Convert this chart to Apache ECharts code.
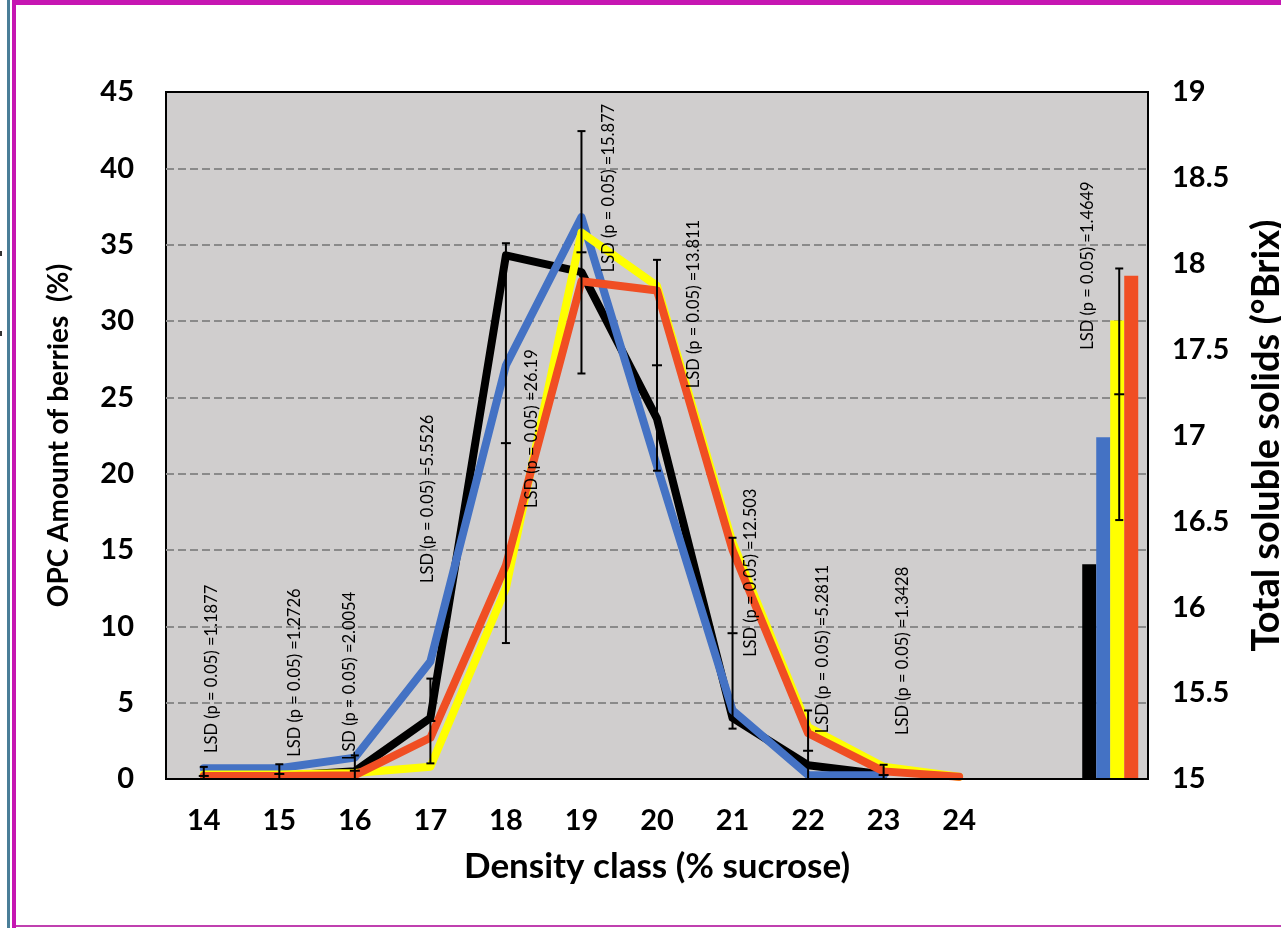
<!DOCTYPE html>
<html><head><meta charset="utf-8">
<script src="https://cdn.jsdelivr.net/npm/echarts@6/dist/echarts.min.js"></script>
<style>
html,body{margin:0;padding:0;background:#fff;overflow:hidden;}
#chart{position:absolute;left:0;top:0;width:1281px;height:928px;}
.deco{position:absolute;pointer-events:none;}
</style></head><body>
<div id="chart"></div>
<div class="deco" style="left:12px;top:0;width:1269px;height:5px;background:#C616B2"></div>
<div class="deco" style="left:7px;top:0;width:3px;height:928px;background:#4A7E98"></div>
<div class="deco" style="left:12px;top:0;width:4px;height:928px;background:#C616B2"></div>
<div class="deco" style="left:16px;top:925px;width:1265px;height:2px;background:#C040B0"></div>
<div class="deco" style="left:0;top:251px;width:2px;height:5px;background:#333"></div>
<div class="deco" style="left:0;top:331px;width:2px;height:5px;background:#333"></div>
<script>
// ---- data ----
const categories = ['14','15','16','17','18','19','20','21','22','23','24','',''];
const opcBlack  = [0.2, 0.2, 0.5, 4.0, 34.3, 33.2, 23.6, 4.0, 0.9, 0.3, null];
const opcBlue   = [0.7, 0.7, 1.4, 7.7, 27.1, 36.8, 20.5, 4.5, 0.26, 0.25, null];
const opcYellow = [0.3, 0.3, 0.4, 0.8, 12.5, 35.8, 32.3, 15.5, 3.4, 0.8, 0.15];
const opcRed    = [0.2, 0.2, 0.25, 2.7, 14.0, 32.6, 32.0, 15.0, 3.0, 0.5, 0.15];
const brixValues = [16.25, 16.99, 17.67, 17.93]; // black, blue, yellow, red
const lsdText   = ['1.1877','1.2726','2.0054','5.5526','26.19','15.877','13.811','12.503','5.2811','1.3428'];
const lsdCenter = [0.2, 0.33, 0.54, 3.8, 22.0, 34.5, 27.1, 9.55, 1.85, 0.26];
const brixLsdText = '1.4649';
const brixLsdCenter = 17.24;
const brixCategoryIndex = 12;
// label placement (value where each rotated label starts, pixel shift)
const lsdLabelBase = [1.7, 1.46, 1.24, 12.84, 17.75, 33.2, 25.6, 8.0, 3.0, 2.88];
const lsdLabelDx   = [8, 15, -5, -3, 26, 27, 37, 18, 15, 19];
const brixLabelBase = 17.5, brixLabelDx = -23;

const COLORS = ['#000000', '#4472C4', '#FFFF00', '#F04E23'];
const FONT = 'Lato, "Open Sans", sans-serif';

const chart = echarts.init(document.getElementById('chart'), null, {renderer: 'canvas'});

function errRender(dx) {
  return function (params, api) {
    const i = api.value(0), c = api.value(1), h = api.value(2) / 2;
    const pt = api.coord([i, c]);
    const top = api.coord([i, c + h]);
    const bot = api.coord([i, c - h]);
    const x = pt[0] + dx;
    const st = {stroke: '#000', lineWidth: 2};
    return {type: 'group', children: [
      {type: 'line', shape: {x1: x, y1: top[1], x2: x, y2: bot[1]}, style: st},
      {type: 'line', shape: {x1: x - 4, y1: top[1], x2: x + 4, y2: top[1]}, style: st},
      {type: 'line', shape: {x1: x - 4, y1: bot[1], x2: x + 4, y2: bot[1]}, style: st},
      {type: 'line', shape: {x1: x - 5, y1: pt[1], x2: x + 5, y2: pt[1]}, style: st}
    ]};
  };
}
function labelRender(dxArr) {
  return function (params, api) {
    const p = api.coord([api.value(0), api.value(1)]);
    const dx = dxArr[params.dataIndex];
    return {type: 'text', x: p[0] + dx, y: p[1], rotation: Math.PI / 2,
      style: {text: 'LSD (p = 0.05) =' + api.value(2), fill: '#000',
        font: 'normal 16.5px ' + FONT, align: 'left', verticalAlign: 'middle'}};
  };
}

const names = ['Black', 'Blue', 'Yellow', 'Red'];
const lineData = [opcBlack, opcBlue, opcYellow, opcRed];
const series = [];
lineData.forEach((d, k) => {
  series.push({type: 'line', name: names[k] + ' OPC', data: d, xAxisIndex: 0, yAxisIndex: 0,
    symbol: 'none', smooth: false, connectNulls: false,
    lineStyle: {color: COLORS[k], width: 8, join: 'round', cap: 'round'}, z: 2});
});
brixValues.forEach((v, k) => {
  const arr = categories.map((c, i) => i === brixCategoryIndex ? v : null);
  series.push({type: 'bar', name: names[k] + ' Brix', data: arr, xAxisIndex: 0, yAxisIndex: 1,
    barWidth: 14, barGap: '0%', itemStyle: {color: COLORS[k]}, z: 2});
});
series.push({type: 'custom', name: 'err', xAxisIndex: 0, yAxisIndex: 0, clip: true, z: 5,
  renderItem: errRender(0),
  data: lsdCenter.map((c, i) => [i, c, parseFloat(lsdText[i])])});
series.push({type: 'custom', name: 'errBrix', xAxisIndex: 0, yAxisIndex: 1, clip: true, z: 5,
  renderItem: errRender(9),
  data: [[brixCategoryIndex, brixLsdCenter, parseFloat(brixLsdText)]]});
series.push({type: 'custom', name: 'lsdLabels', xAxisIndex: 0, yAxisIndex: 0, z: 6,
  renderItem: labelRender(lsdLabelDx),
  dimensions: ['x', 'y', {name: 't', type: 'ordinal'}],
  data: lsdLabelBase.map((b, i) => [i, b, lsdText[i]])});
series.push({type: 'custom', name: 'brixLabel', xAxisIndex: 0, yAxisIndex: 1, z: 6,
  renderItem: labelRender([brixLabelDx]),
  dimensions: ['x', 'y', {name: 't', type: 'ordinal'}],
  data: [[brixCategoryIndex, brixLabelBase, brixLsdText]]});

const option = {
  animation: false,
  backgroundColor: '#fff',
  grid: {left: 166, right: 133, top: 92, bottom: 149, show: true,
    backgroundColor: '#D0CECE', borderColor: '#000', borderWidth: 2,
    containLabel: false, outerBoundsMode: 'none'},
  xAxis: [{
    type: 'category', data: categories, boundaryGap: true, z: 10,
    axisLine: {show: true, lineStyle: {color: '#000', width: 2}},
    axisTick: {show: false},
    axisLabel: {color: '#000', fontFamily: FONT, fontWeight: 'bold', fontSize: 29, margin: 27, interval: 0},
    splitLine: {show: false},
    name: 'Density class (% sucrose)', nameLocation: 'middle', nameGap: 70,
    nameTextStyle: {color: '#000', fontFamily: FONT, fontWeight: 'bold', fontSize: 35}
  }],
  yAxis: [{
    type: 'value', min: 0, max: 45, interval: 5, position: 'left',
    axisLine: {show: false}, axisTick: {show: false},
    axisLabel: {color: '#000', fontFamily: FONT, fontWeight: 'bold', fontSize: 29, margin: 32},
    splitLine: {show: true, showMinLine: false, showMaxLine: false,
      lineStyle: {color: '#8A8A8A', width: 2, type: [8, 4]}},
    name: 'OPC Amount of berries  (%)', nameLocation: 'middle', nameGap: 93,
    nameTextStyle: {color: '#000', fontFamily: FONT, fontWeight: 'bold', fontSize: 28}
  }, {
    type: 'value', min: 15, max: 19, interval: 0.5, position: 'right',
    axisLine: {show: false}, axisTick: {show: false},
    axisLabel: {color: '#000', fontFamily: FONT, fontWeight: 'bold', fontSize: 29, margin: 24},
    splitLine: {show: false},
    name: 'Total soluble solids (°Brix)', nameLocation: 'middle', nameGap: 100,
    nameTextStyle: {color: '#000', fontFamily: FONT, fontWeight: 'bold', fontSize: 38}
  }],
  series: series
};
chart.setOption(option);
</script>
</body></html>
